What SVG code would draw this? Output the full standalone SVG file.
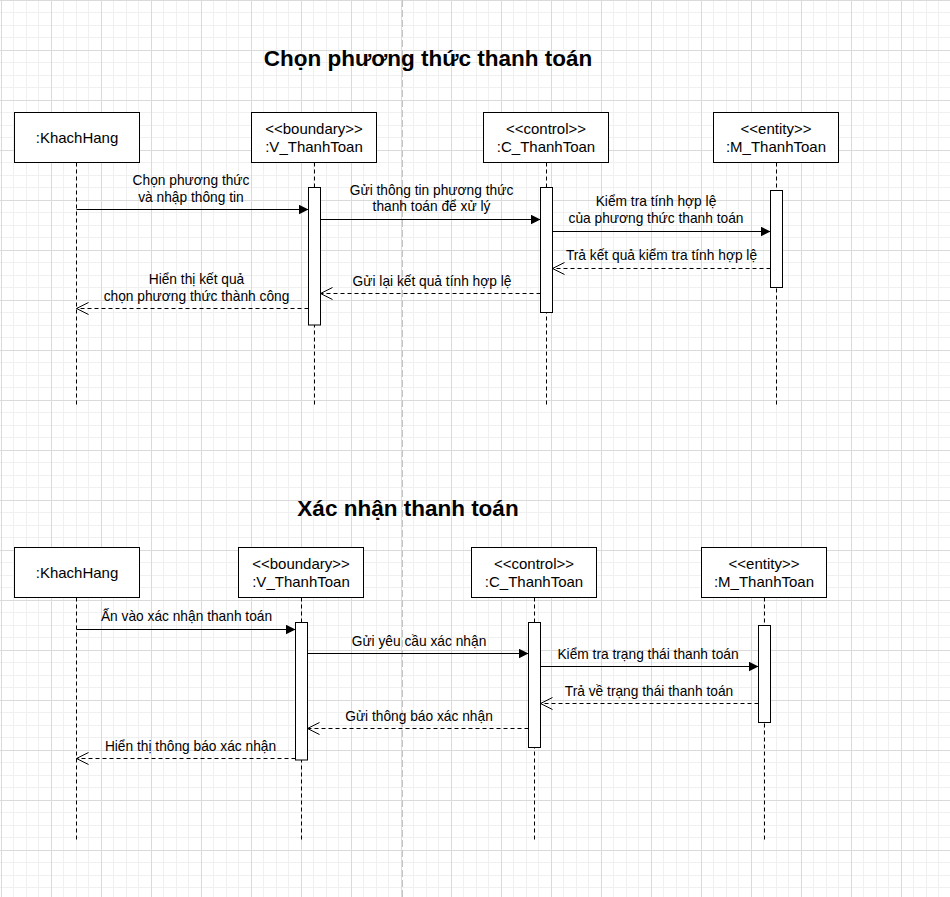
<svg xmlns="http://www.w3.org/2000/svg" width="950" height="897" viewBox="0 0 950 897">
<style>
text{font-family:"Liberation Sans",Arial,sans-serif;fill:#000;}
.title{font-size:22.5px;font-weight:bold;text-anchor:middle;}
.ll{font-size:15px;text-anchor:middle;}
.msg{font-size:13.75px;text-anchor:middle;}
.box{fill:#fff;stroke:#000;stroke-width:1;}
.life{stroke:#000;stroke-width:1;stroke-dasharray:4 3;fill:none;}
.bar{fill:#fff;stroke:#000;stroke-width:1;}
.call{stroke:#000;stroke-width:1;fill:none;marker-end:url(#block);}
.ret{stroke:#000;stroke-width:1;fill:none;stroke-dasharray:4 3;marker-end:url(#open);}
</style>
<defs>
<pattern id="grid" patternUnits="userSpaceOnUse" x="1" y="0" width="50" height="50">
<rect width="50" height="50" fill="#fff"/>
<rect x="12" y="0" width="1" height="50" fill="#f0f0f0"/>
<rect x="25" y="0" width="1" height="50" fill="#f0f0f0"/>
<rect x="37" y="0" width="1" height="50" fill="#f0f0f0"/>
<rect x="0" y="12" width="50" height="1" fill="#f0f0f0"/>
<rect x="0" y="25" width="50" height="1" fill="#f0f0f0"/>
<rect x="0" y="37" width="50" height="1" fill="#f0f0f0"/>
<rect x="0" y="0" width="1" height="50" fill="#dadada"/>
<rect x="0" y="0" width="50" height="1" fill="#dadada"/>
</pattern>
<marker id="block" markerUnits="userSpaceOnUse" viewBox="0 0 10 10" refX="10" refY="5" markerWidth="10" markerHeight="10" orient="auto">
<path d="M0,0 L10,5 L0,10 Z" fill="#000" stroke="none"/>
</marker>
<marker id="open" markerUnits="userSpaceOnUse" viewBox="0 0 12 12" refX="12" refY="6" markerWidth="12" markerHeight="12" orient="auto" overflow="visible">
<path d="M0,0 L12,6 L0,12" fill="none" stroke="#000" stroke-width="1" stroke-dasharray="none"/>
</marker>
</defs>
<rect width="950" height="897" fill="url(#grid)"/>
<line x1="402.5" y1="0" x2="402.5" y2="897" stroke="#c4c4c4" stroke-width="1" stroke-dasharray="7 3"/>

<g id="title1"><text class="title" x="428" y="65.5">Chọn phương thức thanh toán</text></g>
<g id="title2"><text class="title" x="408" y="516">Xác nhận thanh toán</text></g>

<!-- Section 1 lifelines -->
<g id="s1-khachhang">
<line class="life" x1="76.5" y1="162.5" x2="76.5" y2="406"/>
<rect class="box" x="14.5" y="112.5" width="125" height="50"/>
<text class="ll" x="77" y="142.5">:KhachHang</text>
</g>
<g id="s1-vthanhtoan">
<line class="life" x1="314.5" y1="162.5" x2="314.5" y2="406"/>
<rect class="box" x="251.5" y="112.5" width="125" height="50"/>
<text class="ll" x="314" y="134">&lt;&lt;boundary&gt;&gt;</text>
<text class="ll" x="314" y="151.5">:V_ThanhToan</text>
<rect class="bar" x="308.5" y="187.5" width="12" height="137.5"/>
</g>
<g id="s1-cthanhtoan">
<line class="life" x1="546.5" y1="162.5" x2="546.5" y2="406"/>
<rect class="box" x="483.5" y="112.5" width="125" height="50"/>
<text class="ll" x="546" y="134">&lt;&lt;control&gt;&gt;</text>
<text class="ll" x="546" y="151.5">:C_ThanhToan</text>
<rect class="bar" x="540.5" y="187.5" width="12" height="125"/>
</g>
<g id="s1-mthanhtoan">
<line class="life" x1="776.5" y1="162.5" x2="776.5" y2="406"/>
<rect class="box" x="713.5" y="112.5" width="125" height="50"/>
<text class="ll" x="776" y="134">&lt;&lt;entity&gt;&gt;</text>
<text class="ll" x="776" y="151.5">:M_ThanhToan</text>
<rect class="bar" x="770.5" y="190.5" width="12" height="97"/>
</g>

<!-- Section 2 lifelines -->
<g id="s2-khachhang">
<line class="life" x1="76.5" y1="597.5" x2="76.5" y2="841"/>
<rect class="box" x="14.5" y="547.5" width="125" height="50"/>
<text class="ll" x="77" y="577.5">:KhachHang</text>
</g>
<g id="s2-vthanhtoan">
<line class="life" x1="301.5" y1="597.5" x2="301.5" y2="841"/>
<rect class="box" x="238.5" y="547.5" width="125" height="50"/>
<text class="ll" x="301" y="569">&lt;&lt;boundary&gt;&gt;</text>
<text class="ll" x="301" y="586.5">:V_ThanhToan</text>
<rect class="bar" x="295.5" y="622.5" width="12" height="137.5"/>
</g>
<g id="s2-cthanhtoan">
<line class="life" x1="534.5" y1="597.5" x2="534.5" y2="841"/>
<rect class="box" x="471.5" y="547.5" width="125" height="50"/>
<text class="ll" x="534" y="569">&lt;&lt;control&gt;&gt;</text>
<text class="ll" x="534" y="586.5">:C_ThanhToan</text>
<rect class="bar" x="528.5" y="622.5" width="12" height="125"/>
</g>
<g id="s2-mthanhtoan">
<line class="life" x1="764.5" y1="597.5" x2="764.5" y2="841"/>
<rect class="box" x="701.5" y="547.5" width="125" height="50"/>
<text class="ll" x="764" y="569">&lt;&lt;entity&gt;&gt;</text>
<text class="ll" x="764" y="586.5">:M_ThanhToan</text>
<rect class="bar" x="758.5" y="625.5" width="12" height="97"/>
</g>

<g id="connectors">
<line class="call" x1="76.5" y1="209.5" x2="308.5" y2="209.5"/>
<text class="msg" x="191" y="185">Chọn phương thức</text>
<text class="msg" x="191" y="201.5">và nhập thông tin</text>

<line class="call" x1="320.5" y1="219.5" x2="540.5" y2="219.5"/>
<text class="msg" x="431.5" y="195">Gửi thông tin phương thức</text>
<text class="msg" x="431.5" y="211">thanh toán để xử lý</text>

<line class="call" x1="552.5" y1="231.5" x2="770.5" y2="231.5"/>
<text class="msg" x="656" y="206">Kiểm tra tính hợp lệ</text>
<text class="msg" x="656" y="222.5">của phương thức thanh toán</text>

<line class="ret" x1="770.5" y1="268.5" x2="552.5" y2="268.5"/>
<text class="msg" x="661.5" y="260">Trả kết quả kiểm tra tính hợp lệ</text>

<line class="ret" x1="540.5" y1="293.5" x2="320.5" y2="293.5"/>
<text class="msg" x="432" y="285.5">Gửi lại kết quả tính hợp lệ</text>

<line class="ret" x1="308.5" y1="308.5" x2="76.5" y2="308.5"/>
<text class="msg" x="196.5" y="284">Hiển thị kết quả</text>
<text class="msg" x="196.5" y="300.5">chọn phương thức thành công</text>

<line class="call" x1="76.5" y1="629.5" x2="295.5" y2="629.5"/>
<text class="msg" x="186.5" y="620.5">Ấn vào xác nhận thanh toán</text>

<line class="call" x1="307.5" y1="653.5" x2="528.5" y2="653.5"/>
<text class="msg" x="419" y="646">Gửi yêu cầu xác nhận</text>

<line class="call" x1="540.5" y1="666.5" x2="758.5" y2="666.5"/>
<text class="msg" x="648" y="659">Kiểm tra trạng thái thanh toán</text>

<line class="ret" x1="758.5" y1="703.5" x2="540.5" y2="703.5"/>
<text class="msg" x="649" y="695.5">Trả về trạng thái thanh toán</text>

<line class="ret" x1="528.5" y1="728.5" x2="307.5" y2="728.5"/>
<text class="msg" x="419" y="720.5">Gửi thông báo xác nhận</text>

<line class="ret" x1="295.5" y1="758.5" x2="76.5" y2="758.5"/>
<text class="msg" x="190.5" y="750.5">Hiển thị thông báo xác nhận</text>
</g>
</svg>
